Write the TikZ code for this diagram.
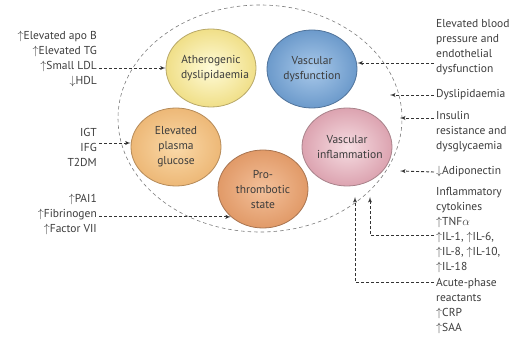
\documentclass[tikz,border=0pt]{standalone}
\usepackage{fontspec}
\setmainfont{PT Sans}
\usepackage{xcolor}
\usepackage{tikz}
\usetikzlibrary{shapes.geometric, arrows}

\definecolor{inkgray}{HTML}{3C3C3C}
\definecolor{ringgray}{HTML}{7A7A7A}

\begin{document}
\begin{tikzpicture}[x=1pt, y=-1pt, font=\fontsize{11.5}{15}\selectfont, text=inkgray]
    % Define the style for the nodes
    \tikzstyle{factor} = [ellipse, thick, text width=6em, text centered, minimum width=90pt, minimum height=78pt, inner sep=0pt]
    \tikzstyle{cause} = [inner sep=2pt]
    \tikzstyle{line} = [draw, -latex', line width=0.9pt, dash pattern=on 3pt off 2pt, black!80]

    \useasboundingbox (0,0) rectangle (519,339);

    % The surrounding ring
    \draw [ringgray, semithick, dash pattern=on 3.5pt off 3pt] (260,118.5) ellipse [x radius=142pt, y radius=113.5pt];

    % Place the nodes
    \node [factor, draw={rgb,255:red,184;green,168;blue,104}, inner color={rgb,255:red,255;green,251;blue,216}, outer color={rgb,255:red,240;green,223;blue,136}] (athero) at (211,68) {Atherogenic\\dyslipidaemia};
    \node [factor, draw={rgb,255:red,80;green,115;blue,154}, inner color={rgb,255:red,169;green,201;blue,234}, outer color={rgb,255:red,108;green,154;blue,203}] (dysfunc) at (312,69) {Vascular\\dysfunction};
    \node [factor, draw={rgb,255:red,181;green,138;blue,88}, inner color={rgb,255:red,250;green,217;blue,168}, outer color={rgb,255:red,237;green,184;blue,119}] (glucose) at (176,147) {Elevated\\plasma\\glucose};
    \node [factor, draw={rgb,255:red,168;green,116;blue,80}, inner color={rgb,255:red,243;green,192;blue,154}, outer color={rgb,255:red,225;green,154;blue,104}] (thrombo) at (263,189) {Pro-\\thrombotic\\state};
    \node [factor, draw={rgb,255:red,168;green,130;blue,138}, inner color={rgb,255:red,246;green,221;blue,226}, outer color={rgb,255:red,220;green,163;blue,176}] (inflam) at (347,147) {Vascular\\inflammation};

    % Risk factors on the left
    \node [cause, anchor=east, align=right] (lipids) at (99,59) {$\uparrow$Elevated apo B\\$\uparrow$Elevated TG\\$\uparrow$Small LDL\\$\downarrow$HDL};
    \node [cause, anchor=east, align=right] (sugar) at (99,147) {IGT\\IFG\\T2DM};
    \node [cause, anchor=east, align=right] (clot) at (99,214) {$\uparrow$PAI1\\$\uparrow$Fibrinogen\\$\uparrow$Factor VII};

    % Risk factors on the right
    \node [cause, anchor=west, align=left] (pressure) at (434,47) {Elevated blood\\pressure and\\endothelial\\dysfunction};
    \node [cause, anchor=west, align=left] (dyslip) at (434,95) {Dyslipidaemia};
    \node [cause, anchor=west, align=left] (insulin) at (434,132) {Insulin\\resistance and\\dysglycaemia};
    \node [cause, anchor=west, align=left] (adipo) at (434,172) {$\downarrow$Adiponectin};
    \node [cause, anchor=west, align=left] (cyto) at (434,230) {Inflammatory\\cytokines\\$\uparrow$TNF$\alpha$\\$\uparrow$IL-1, $\uparrow$IL-6,\\$\uparrow$IL-8, $\uparrow$IL-10,\\$\uparrow$IL-18};
    \node [cause, anchor=west, align=left] (acute) at (434,306) {Acute-phase\\reactants\\$\uparrow$CRP\\$\uparrow$SAA};

    % Arrow ends
    \coordinate (dyslip-tip) at (390,95);
    \coordinate (insulin-tip) at (400,118);
    \coordinate (adipo-tip) at (400,171);
    \coordinate (cyto-bend) at (370,235);
    \coordinate (cyto-tip) at (370,197);
    \coordinate (acute-bend) at (355,282);
    \coordinate (acute-tip) at (355,197);

    % Connect the nodes with paths
    \path [line] (athero.west -| lipids.east) -- (athero.west);
    \path [line] ([yshift=4pt]glucose.west -| sugar.east) -- ([yshift=4pt]glucose.west);
    \path [line] (thrombo.south west -| clot.east) -- (thrombo.south west);
    \path [line] ([yshift=6pt]dysfunc.east -| pressure.west) -- ([yshift=6pt]dysfunc.east);
    \path [line] (dyslip.west) -- (dyslip-tip);
    \path [line] (insulin-tip -| insulin.west) -- (insulin-tip);
    \path [line] (adipo.west) -- (adipo-tip);
    \path [line] (cyto-bend -| cyto.west) -- (cyto-bend) -- (cyto-tip);
    \path [line] (acute-bend -| acute.west) -- (acute-bend) -- (acute-tip);

\end{tikzpicture}
\end{document}
